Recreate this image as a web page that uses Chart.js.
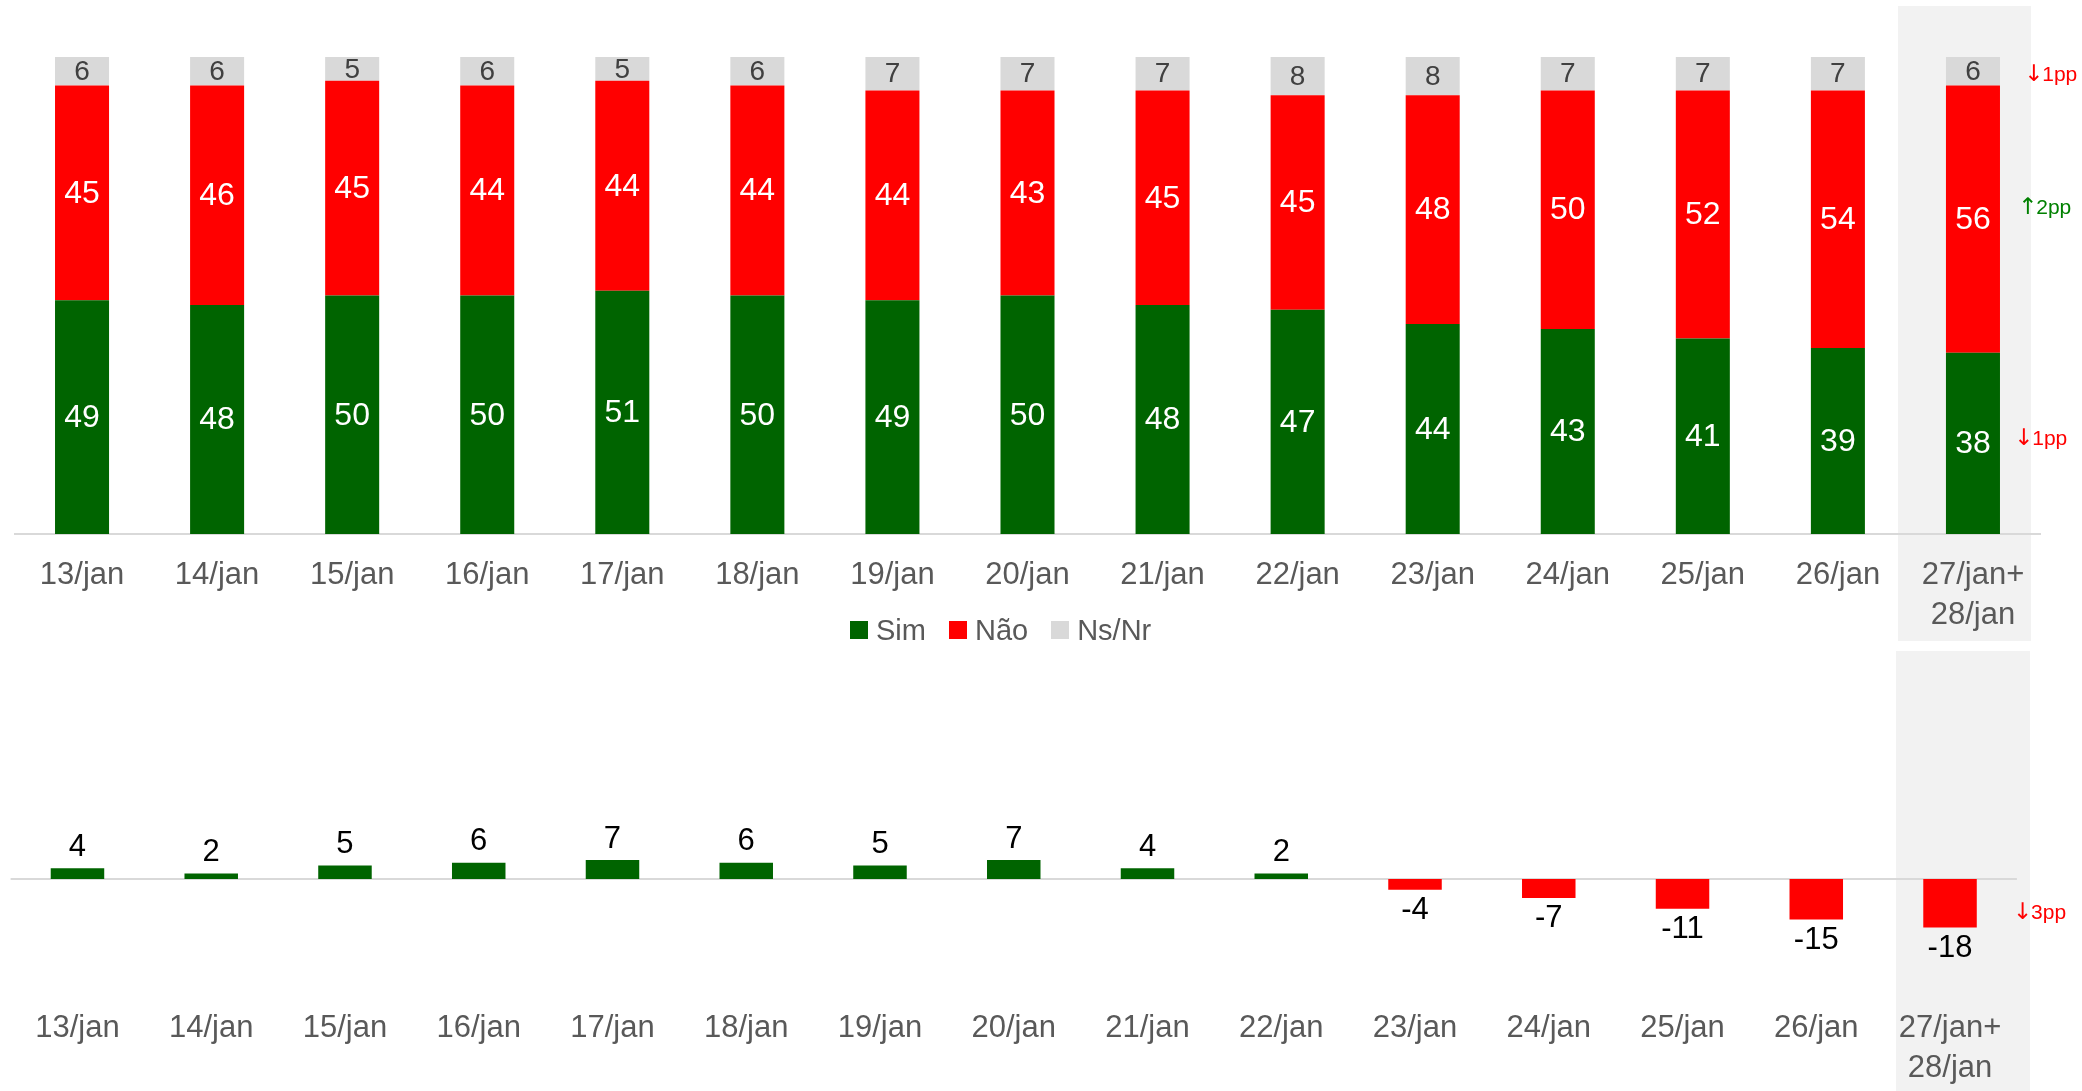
<!DOCTYPE html>
<html><head><meta charset="utf-8">
<script src="https://cdn.jsdelivr.net/npm/chart.js@4.4.1/dist/chart.umd.min.js"></script>
<style>
html,body{margin:0;padding:0;background:#fff;width:2082px;height:1091px;overflow:hidden;font-family:'Liberation Sans',Arial,sans-serif;}
.shade{position:absolute;background:#F2F2F2;}
canvas{position:absolute;left:0;}
#legend{position:absolute;left:850px;top:612px;height:36px;display:flex;align-items:center;font-size:29px;color:#595959;}
#legend .item{display:flex;align-items:center;margin-right:23px;}
#legend .box{width:18px;height:18px;margin-right:8px;}
</style></head><body>
<div class="shade" style="left:1898px;top:6px;width:133px;height:635px"></div>
<div class="shade" style="left:1896px;top:651px;width:134px;height:440px"></div>
<canvas id="top" width="2082" height="660" style="top:0px"></canvas>
<canvas id="bot" width="2082" height="451" style="top:640px"></canvas>
<div id="legend"></div>
<script>
const categories = ['13/jan','14/jan','15/jan','16/jan','17/jan','18/jan','19/jan','20/jan','21/jan','22/jan','23/jan','24/jan','25/jan','26/jan',['27/jan+','28/jan']];
const sim   = [49,48,50,50,51,50,49,50,48,47,44,43,41,39,38];
const nao   = [45,46,45,44,44,44,44,43,45,45,48,50,52,54,56];
const nsnr  = [6,6,5,6,5,6,7,7,7,8,8,7,7,7,6];
const saldo = [4,2,5,6,7,6,5,7,4,2,-4,-7,-11,-15,-18];
const seriesNames = ['Sim','Não','Ns/Nr'];
const seriesColors = ['#006400','#FF0000','#D9D9D9'];
const labelColors = ['#FFFFFF','#FFFFFF','#404040'];
const changeNotes = ['↓1pp','↑2pp','↓1pp']; // Sim, Não, Ns/Nr (last period)
const changeColors = ['#FF0000','#008000','#FF0000'];
const saldoNote = '↓3pp';

const FONT = "'Liberation Sans', Arial, sans-serif";
Chart.defaults.font.family = FONT;

// legend
const lg = document.getElementById('legend');
seriesNames.forEach((n,i)=>{
  const it=document.createElement('div');it.className='item';
  const b=document.createElement('div');b.className='box';b.style.background=seriesColors[i];
  const t=document.createElement('span');t.textContent=n;
  it.appendChild(b);it.appendChild(t);lg.appendChild(it);
});

function drawNote(ctx,text,x,y,color){
  ctx.save();
  ctx.textAlign='left';ctx.textBaseline='middle';ctx.fillStyle=color;
  const arrow=text.charAt(0), rest=text.slice(1);
  ctx.font="23px 'DejaVu Sans', sans-serif";
  ctx.fillText(arrow,x,y);
  const w=ctx.measureText(arrow).width;
  ctx.font='21px '+FONT;
  ctx.fillText(rest,x+w-1,y);
  ctx.restore();
}

const noteDx = [14,18,24], noteDy = [-4,-11,4];
const topLabels = {
  id:'topLabels',
  afterDatasetsDraw(chart){
    const ctx=chart.ctx;ctx.save();
    ctx.textAlign='center';ctx.textBaseline='middle';
    chart.data.datasets.forEach((ds,i)=>{
      const meta=chart.getDatasetMeta(i);
      meta.data.forEach((bar,j)=>{
        const p=bar.getProps(['x','y','base','width'],true);
        const cy=(p.y+p.base)/2;
        ctx.fillStyle=labelColors[i];
        ctx.textAlign='center';
        ctx.font=(i===2?'28px ':'32px ')+FONT;
        ctx.fillText(String(ds.data[j]),p.x,cy+1);
        if(j===ds.data.length-1){
          drawNote(ctx,changeNotes[i],p.x+p.width/2+noteDx[i],cy+noteDy[i],changeColors[i]);
        }
      });
    });
    ctx.restore();
  }
};

new Chart(document.getElementById('top'),{
  type:'bar',
  data:{labels:categories,datasets:seriesNames.map((n,i)=>({
    label:n,data:[sim,nao,nsnr][i],backgroundColor:seriesColors[i],borderWidth:0,
    categoryPercentage:1,barPercentage:0.4
  }))},
  options:{
    responsive:false,animation:false,
    layout:{padding:{left:14.5,right:41.5,top:57,bottom:26}},
    plugins:{legend:{display:false},tooltip:{enabled:false}},
    scales:{
      x:{stacked:true,offset:true,grid:{display:false,drawTicks:false},
         border:{display:true,color:'#D9D9D9',width:2},
         ticks:{color:'#595959',font:{size:31,family:FONT,lineHeight:1.28},padding:22,maxRotation:0,autoSkip:false},
         afterFit(s){s.height=100;}},
      y:{stacked:true,display:false,min:0,max:100}
    }
  },
  plugins:[topLabels]
});

const botLabels = {
  id:'botLabels',
  beforeDatasetsDraw(chart){
    const ctx=chart.ctx, y0=chart.scales.y.getPixelForValue(0), a=chart.chartArea;
    ctx.save();ctx.strokeStyle='#D9D9D9';ctx.lineWidth=2;
    ctx.beginPath();ctx.moveTo(a.left,y0);ctx.lineTo(a.right,y0);ctx.stroke();ctx.restore();
  },
  afterDatasetsDraw(chart){
    const ctx=chart.ctx;ctx.save();
    ctx.textBaseline='middle';
    const ds=chart.data.datasets[0], meta=chart.getDatasetMeta(0);
    meta.data.forEach((bar,j)=>{
      const p=bar.getProps(['x','y','base','width'],true);
      const v=ds.data[j];
      ctx.fillStyle='#000';ctx.font='31px '+FONT;ctx.textAlign='center';
      ctx.fillText(String(v),p.x,v>=0?p.y-21:p.y+21);
      if(j===ds.data.length-1){
        drawNote(ctx,saldoNote,p.x+p.width/2+36,(p.y+p.base)/2+10,'#FF0000');
      }
    });
    ctx.restore();
  }
};

new Chart(document.getElementById('bot'),{
  type:'bar',
  data:{labels:categories,datasets:[{
    label:'Saldo',data:saldo,
    backgroundColor:saldo.map(v=>v>=0?seriesColors[0]:seriesColors[1]),borderWidth:0,
    categoryPercentage:1,barPercentage:0.4
  }]},
  options:{
    responsive:false,animation:false,
    layout:{padding:{left:10.6,right:65.1,top:171.5,bottom:4}},
    plugins:{legend:{display:false},tooltip:{enabled:false}},
    scales:{
      x:{grid:{display:false,drawTicks:false},border:{display:false},
         ticks:{color:'#595959',font:{size:31,family:FONT,lineHeight:1.28},padding:22,maxRotation:0,autoSkip:false},
         afterFit(s){s.height=100;}},
      y:{display:false,min:-40,max:25}
    }
  },
  plugins:[botLabels]
});
</script>
</body></html>
